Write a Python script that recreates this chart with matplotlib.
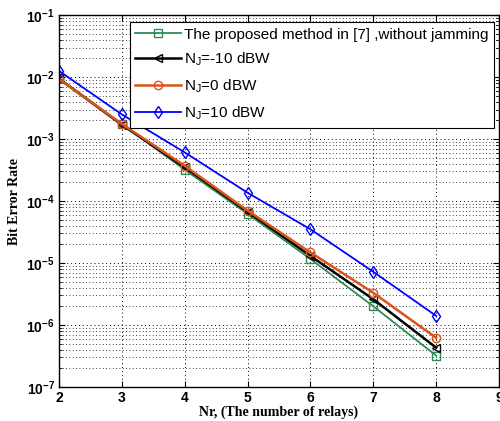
import matplotlib
matplotlib.use("Agg")
import matplotlib.pyplot as plt
import numpy as np

# Number of relays
relays = [2, 3, 4, 5, 6, 7, 8]

# BER values
ber_proposed = [9.6e-3, 1.75e-3, 3.2e-4, 6.2e-5, 1.16e-5, 2.0e-6, 3.2e-7]
ber_nj_m10 = [9.4e-3, 1.7e-3, 3.5e-4, 6.7e-5, 1.3e-5, 2.6e-6, 4.3e-7]
ber_nj_0 = [9.3e-3, 1.75e-3, 3.7e-4, 7.0e-5, 1.48e-5, 3.3e-6, 6.2e-7]
ber_nj_10 = [1.26e-2, 2.5e-3, 6.1e-4, 1.36e-4, 3.5e-5, 7.2e-6, 1.4e-6]

labels = ['The proposed method in [7] ,without jamming',
          r'N$_\mathregular{J}$=-10 dBW',
          r'N$_\mathregular{J}$=0 dBW',
          r'N$_\mathregular{J}$=10 dBW']

fig = plt.figure(figsize=(5.0, 4.21), dpi=100)
ax = fig.add_axes([0.118, 0.081, 0.880, 0.883])

ax.semilogy(relays, ber_proposed, '-s', color='#2e8b57', mfc='none', ms=6, lw=1.3, label=labels[0])
ax.semilogy(relays, ber_nj_m10, '-<', color='black', mfc='none', ms=6, lw=1.8, label=labels[1])
ax.semilogy(relays, ber_nj_0, '-o', color='#d9541a', mfc='none', ms=6, lw=1.8, label=labels[2])
ax.semilogy(relays, ber_nj_10, '-d', color='blue', mfc='none', ms=6, lw=1.3, label=labels[3])

ax.set_xlim(2, 9)
ax.set_ylim(1e-7, 1e-1)
ax.set_xticks([2, 3, 4, 5, 6, 7, 8, 9])
ax.set_yticks([1e-7, 1e-6, 1e-5, 1e-4, 1e-3, 1e-2, 1e-1])

# matlab-like dotted grid
ax.grid(True, which='major', linestyle=(0, (1, 3)), color='black', lw=0.7)
ax.grid(True, which='minor', axis='y', linestyle=(0, (1, 3)), color='black', lw=0.6)
ax.tick_params(which='both', direction='in', top=True, right=True)
ax.tick_params(which='major', length=4, labelsize=10, pad=3)
ax.tick_params(which='minor', length=2)
for lab in ax.get_xticklabels() + ax.get_yticklabels():
    lab.set_fontweight('bold')
    lab.set_family('Liberation Sans')
for sp in ax.spines.values():
    sp.set_linewidth(1.0)

ax.set_xlabel('Nr, (The number of relays)', family='Liberation Serif', fontweight='bold',
              fontsize=10, labelpad=0)
ax.set_ylabel('Bit Error Rate', family='Liberation Serif', fontweight='bold', fontsize=10)

leg = ax.legend(loc='upper right', bbox_to_anchor=(0.9886, 0.981), borderaxespad=0,
                fancybox=False, edgecolor='black',
                framealpha=1, handlelength=3.0, handletextpad=0.2, borderpad=0.35,
                labelspacing=0.6, prop={'family': 'Liberation Sans', 'size': 11})
leg.get_frame().set_linewidth(0.8)

fig.savefig('out.png', dpi=100, facecolor='white')
